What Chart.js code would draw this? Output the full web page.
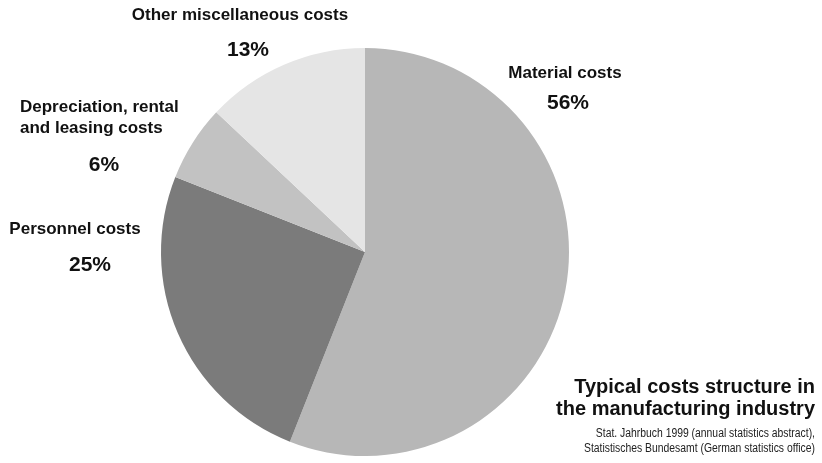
<!DOCTYPE html>
<html>
<head>
<meta charset="utf-8">
<script src="https://cdn.jsdelivr.net/npm/chart.js@4/dist/chart.umd.min.js"></script>
<style>
  html, body { margin: 0; padding: 0; background: #fff; }
  #wrap { width: 822px; height: 463px; }
</style>
</head>
<body>
<div id="wrap"><canvas id="costChart" width="822" height="463"></canvas></div>
<script>
// cost shares (clockwise from 12 o'clock)
const categories = ["Material costs", "Personnel costs", "Depreciation, rental and leasing costs", "Other miscellaneous costs"];
const shares = [56, 25, 6, 13];
const sliceColours = ["#b7b7b7", "#7b7b7b", "#c2c2c2", "#e5e5e5"];
const labelLines = [["Material costs"], ["Personnel costs"], ["Depreciation, rental", "and leasing costs"], ["Other miscellaneous costs"]];
const titleLines = ["Typical costs structure in", "the manufacturing industry"];
const sourceLines = ["Stat. Jahrbuch 1999 (annual statistics abstract),", "Statistisches Bundesamt (German statistics office)"];

// where each label sits (name lines + percentage), drawn after the pie
const labelSpots = [
  { align: "center", x: 565, y: 73, px: 568, py: 103 },
  { align: "center", x: 75, y: 229, px: 90, py: 265 },
  { align: "left", x: 20, y: 107, px: 104, py: 165 },
  { align: "center", x: 240, y: 15, px: 248, py: 50 }
];

const textPlugin = {
  id: 'costText',
  afterDraw(chart) {
    const ctx = chart.ctx;
    ctx.save();
    ctx.fillStyle = '#111';
    ctx.textBaseline = 'middle';
    labelLines.forEach((lines, i) => {
      const s = labelSpots[i];
      ctx.font = "bold 17px 'Liberation Sans', Arial, sans-serif";
      ctx.textAlign = s.align;
      lines.forEach((t, j) => ctx.fillText(t, s.x, s.y + j * 21));
      ctx.font = "bold 21px 'Liberation Sans', Arial, sans-serif";
      ctx.textAlign = 'center';
      ctx.fillText(shares[i] + '%', s.px, s.py);
    });
    ctx.textAlign = 'right';
    ctx.font = "bold 20px 'Liberation Sans', Arial, sans-serif";
    titleLines.forEach((t, j) => ctx.fillText(t, 815, 387 + j * 22));
    // source note is set in a narrow face in the original: squeeze it
    const squeeze = 0.83;
    ctx.font = "12.5px 'Liberation Sans', Arial, sans-serif";
    ctx.fillStyle = '#222';
    ctx.scale(squeeze, 1);
    sourceLines.forEach((t, j) => ctx.fillText(t, 815 / squeeze, 434 + j * 15));
    ctx.restore();
  }
};

new Chart(document.getElementById('costChart'), {
  type: 'pie',
  data: {
    labels: categories,
    datasets: [{
      data: shares,
      backgroundColor: sliceColours,
      borderWidth: 0
    }]
  },
  options: {
    responsive: false,
    animation: false,
    layout: { padding: { top: 48, bottom: 7, left: 161, right: 253 } },
    plugins: {
      legend: { display: false },
      tooltip: { enabled: false }
    }
  },
  plugins: [textPlugin]
});
</script>
</body>
</html>
